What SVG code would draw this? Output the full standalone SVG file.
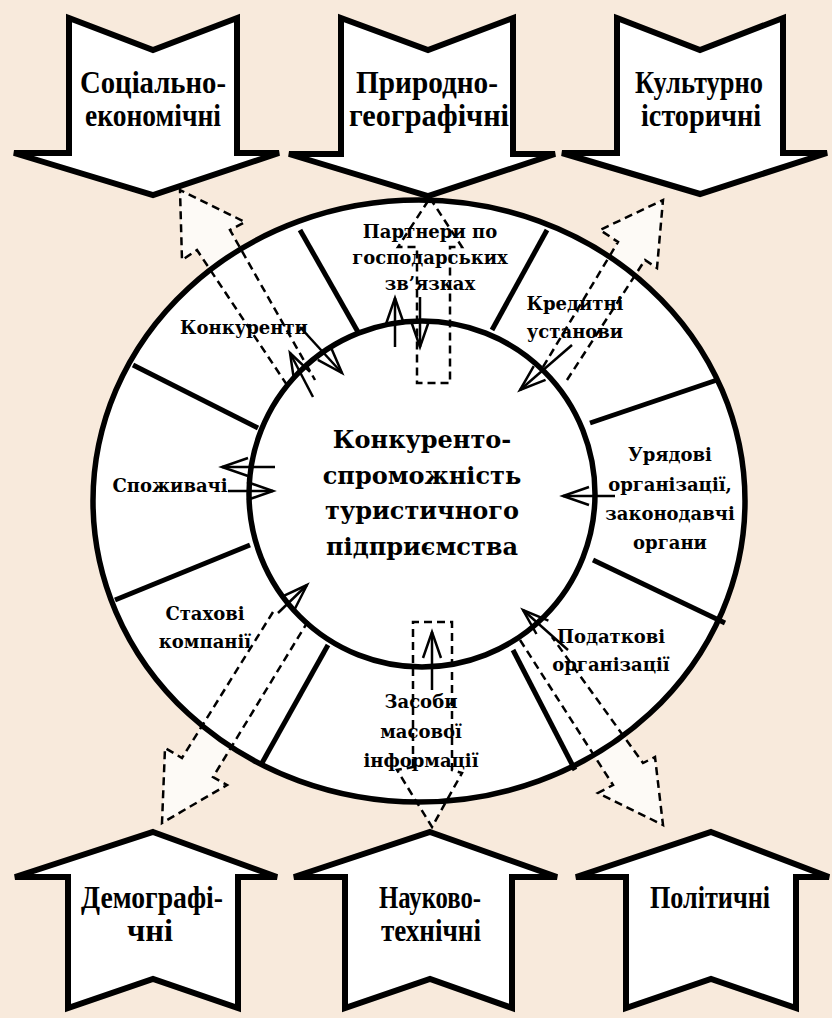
<svg xmlns="http://www.w3.org/2000/svg" width="832" height="1018" viewBox="0 0 832 1018">
<style>
.bg{fill:#f8eadc}
.big{fill:#fff;stroke:#000;stroke-width:6;stroke-linejoin:miter}
.fillw{fill:#fff;stroke:none}
.edge{fill:none;stroke:#000;stroke-width:5.5}
.div{stroke:#000;stroke-width:5;fill:none}
.dash{fill:#fff;fill-opacity:0.75;stroke:#000;stroke-width:2.5;stroke-dasharray:8 5}
.sol{stroke:#000;stroke-width:2.5;fill:none;marker-end:url(#ah)}
.lab{font-family:"Liberation Serif","Times New Roman",serif;font-weight:bold;font-size:31px;text-anchor:middle;fill:#000}
.rt{font-family:"DejaVu Serif","Liberation Serif",serif;font-weight:bold;font-size:18px;text-anchor:middle;fill:#000}
.ct{font-family:"DejaVu Serif","Liberation Serif",serif;font-weight:bold;font-size:24px;text-anchor:middle;fill:#000}
</style>
<defs>
<marker id="ah" markerUnits="userSpaceOnUse" markerWidth="30" markerHeight="24" viewBox="0 0 30 24" refX="28" refY="12" orient="auto" overflow="visible">
<path d="M2,3 L28,12 L2,21" fill="none" stroke="#000" stroke-width="2.5"/>
</marker>
</defs>
<rect class="bg" x="0" y="0" width="832" height="1018"/>

<g id="factor-socio">
<path class="big" d="M69,18 L153,50 L237,18 L237,153 L279,153 L153,195 L14,153 L69,153 Z"/>
<text class="lab" x="153" y="93" textLength="146" lengthAdjust="spacingAndGlyphs">Соціально-</text>
<text class="lab" x="153" y="126" textLength="136" lengthAdjust="spacingAndGlyphs">економічні</text>
</g>
<g id="factor-nature">
<path class="big" d="M341,18 L428,50 L513,18 L513,154 L555,154 L428,196 L289,154 L341,154 Z"/>
<text class="lab" x="427" y="93" textLength="142" lengthAdjust="spacingAndGlyphs">Природно-</text>
<text class="lab" x="429" y="126" textLength="160" lengthAdjust="spacingAndGlyphs">географічні</text>
</g>
<g id="factor-culture">
<path class="big" d="M617,18 L700,50 L783,18 L783,153 L827,153 L700,194 L562,153 L617,153 Z"/>
<text class="lab" x="699" y="93" textLength="128" lengthAdjust="spacingAndGlyphs">Культурно</text>
<text class="lab" x="701" y="126" textLength="120" lengthAdjust="spacingAndGlyphs">історичні</text>
</g>
<g id="factor-demo">
<path class="big" d="M153,832 L277,877 L238,877 L238,1008 L153,979 L68,1008 L68,877 L15,877 Z"/>
<text class="lab" x="152" y="908" textLength="142" lengthAdjust="spacingAndGlyphs">Демографі-</text>
<text class="lab" x="150" y="941" textLength="46" lengthAdjust="spacingAndGlyphs">чні</text>
</g>
<g id="factor-science">
<path class="big" d="M430,832 L557,877 L512,877 L512,1008 L430,979 L345,1008 L345,877 L294,877 Z"/>
<text class="lab" x="430" y="908" textLength="102" lengthAdjust="spacingAndGlyphs">Науково-</text>
<text class="lab" x="431" y="941" textLength="100" lengthAdjust="spacingAndGlyphs">технічні</text>
</g>
<g id="factor-politics">
<path class="big" d="M711,832 L829,877 L796,877 L796,1008 L711,979 L626,1008 L626,877 L576,877 Z"/>
<text class="lab" x="710" y="908" textLength="120" lengthAdjust="spacingAndGlyphs">Політичні</text>
</g>

<g id="ring">
<ellipse class="fillw" cx="419" cy="501" rx="326" ry="301"/>
<line class="div" x1="300" y1="230" x2="358" y2="332"/>
<line class="div" x1="547" y1="230" x2="492" y2="330"/>
<line class="div" x1="717" y1="380" x2="590" y2="423"/>
<line class="div" x1="593" y1="560" x2="725" y2="623"/>
<line class="div" x1="513" y1="650" x2="575" y2="770"/>
<line class="div" x1="328" y1="645" x2="262" y2="763"/>
<line class="div" x1="250" y1="545" x2="115" y2="600"/>
<line class="div" x1="133" y1="365" x2="258" y2="428"/>
<circle class="fillw" cx="422" cy="494" r="173"/>
</g>

<g id="connectors">
<path class="dash" d="M287,385 L197,250 L182,260 L180,190 L245,222 L230,230 L315,380"/>
<path class="dash" d="M430,198 L462,247 L450,247 L450,383 L417,383 L417,247 L398,247 Z"/>
<path class="dash" d="M543,367 L618,242 L600,230 L663,200 L657,268 L645,260 L567,380"/>
<path class="dash" d="M273,612 L182,758 L165,748 L162,823 L227,785 L213,777 L310,618"/>
<path class="dash" d="M413,767 L413,622 L452,622 L452,770 L462,773 L432,827 L397,770 Z"/>
<path class="dash" d="M520,640 L613,785 L598,793 L663,825 L655,757 L643,763 L552,637"/>
</g>

<g id="ring-outline">
<ellipse class="edge" cx="419" cy="501" rx="326" ry="301"/>
<circle class="edge" cx="422" cy="494" r="173"/>
</g>

<g id="center">
<text class="ct" x="422" y="448">Конкуренто-</text>
<text class="ct" x="422" y="484">спроможність</text>
<text class="ct" x="422" y="519">туристичного</text>
<text class="ct" x="422" y="555">підприємства</text>
</g>

<g id="seg-partners">
<text class="rt" x="430" y="238">Партнери по</text>
<text class="rt" x="430" y="264">господарських</text>
<text class="rt" x="430" y="290">зв’язках</text>
</g>
<g id="seg-competitors"><text class="rt" x="244" y="334">Конкуренти</text></g>
<g id="seg-credit">
<text class="rt" x="575" y="310">Кредитні</text>
<text class="rt" x="575" y="338">установи</text>
</g>
<g id="seg-government">
<text class="rt" x="670" y="461">Урядові</text>
<text class="rt" x="670" y="491">організації,</text>
<text class="rt" x="670" y="520">законодавчі</text>
<text class="rt" x="670" y="549">органи</text>
</g>
<g id="seg-consumers"><text class="rt" x="170" y="492">Споживачі</text></g>
<g id="seg-insurance">
<text class="rt" x="205" y="620">Стахові</text>
<text class="rt" x="205" y="648">компанії</text>
</g>
<g id="seg-tax">
<text class="rt" x="611" y="643">Податкові</text>
<text class="rt" x="611" y="671">організації</text>
</g>
<g id="seg-media">
<text class="rt" x="421" y="708">Засоби</text>
<text class="rt" x="421" y="738">масової</text>
<text class="rt" x="421" y="767">інформації</text>
</g>

<g id="arrows">
<line class="sol" x1="300" y1="327" x2="342" y2="373"/>
<line class="sol" x1="313" y1="397" x2="290" y2="353"/>
<line class="sol" x1="395" y1="347" x2="395" y2="298"/>
<line class="sol" x1="420" y1="297" x2="420" y2="347"/>
<line class="sol" x1="572" y1="345" x2="520" y2="390"/>
<line class="sol" x1="615" y1="496" x2="563" y2="496"/>
<line class="sol" x1="275" y1="467" x2="222" y2="467"/>
<line class="sol" x1="228" y1="491" x2="273" y2="491"/>
<line class="sol" x1="278" y1="613" x2="307" y2="585"/>
<line class="sol" x1="432" y1="690" x2="432" y2="632"/>
<line class="sol" x1="568" y1="650" x2="523" y2="610"/>
</g>
</svg>
